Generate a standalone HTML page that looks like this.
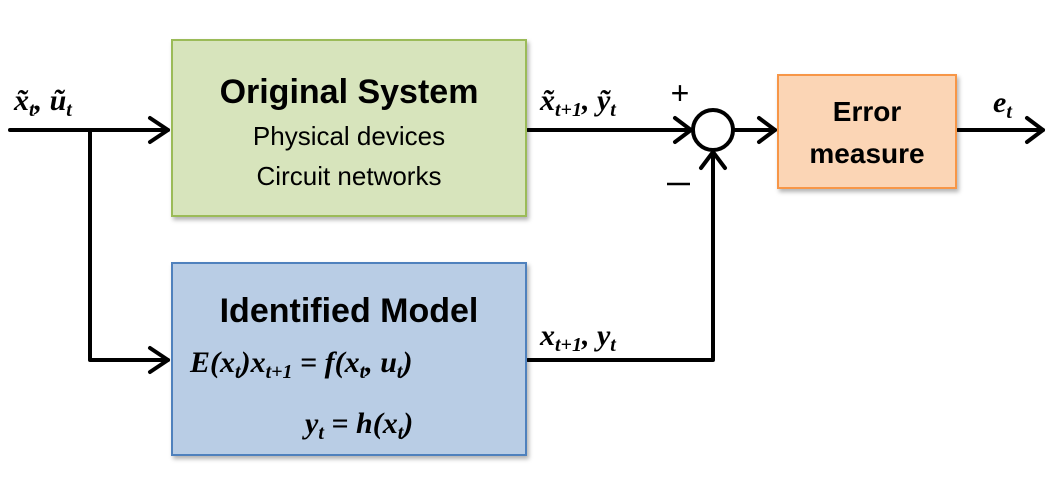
<!DOCTYPE html>
<html><head><meta charset="utf-8"><style>
html,body{margin:0;padding:0;background:#fff;}
svg{display:block}
.b{font-family:"Liberation Sans",sans-serif;font-weight:bold;}
.s{font-family:"Liberation Sans",sans-serif;}
.m{font-family:"Liberation Serif",serif;font-weight:bold;font-style:italic;}
.u{font-family:"Liberation Serif",serif;font-weight:bold;}
</style></head><body>
<svg width="1052" height="484" viewBox="0 0 1052 484" xmlns="http://www.w3.org/2000/svg">
<defs>
<filter id="sh" x="-5%" y="-5%" width="115%" height="120%"><feDropShadow dx="2" dy="3" stdDeviation="2" flood-color="#000" flood-opacity="0.3"/></filter>
</defs>
<g stroke="#000" stroke-width="4" fill="none" stroke-linecap="round" stroke-linejoin="round">
<line x1="10" y1="130" x2="168" y2="130"/>
<polyline points="150,118 168,130 150,142"/>
<polyline points="90,130 90,360 168,360"/>
<polyline points="150,348 168,360 150,372"/>
<line x1="528" y1="130" x2="691" y2="130"/>
<polyline points="675,118 691,130 675,142"/>
<polyline points="528,360 713,360 713,152"/>
<polyline points="701,168 713,152 725,168"/>
<line x1="735" y1="130" x2="775" y2="130"/>
<polyline points="759,118 775,130 759,142"/>
<line x1="958" y1="130" x2="1043" y2="130"/>
<polyline points="1027,118 1043,130 1027,142"/>
<circle cx="713" cy="130" r="20" stroke-width="4"/>
</g>
<rect x="172" y="40" width="354" height="176" fill="#d7e4bc" stroke="#9bbb59" stroke-width="2" filter="url(#sh)"/>
<rect x="172" y="263" width="354" height="192" fill="#b9cde5" stroke="#4f81bd" stroke-width="2" filter="url(#sh)"/>
<rect x="778" y="75" width="178" height="113" fill="#fbd5b5" stroke="#f79646" stroke-width="2" filter="url(#sh)"/>
<text x="349" y="103" text-anchor="middle" class="b" font-size="34">Original System</text>
<text x="349" y="145" text-anchor="middle" class="s" font-size="26">Physical devices</text>
<text x="349" y="185" text-anchor="middle" class="s" font-size="26">Circuit networks</text>
<text x="349" y="322" text-anchor="middle" class="b" font-size="34">Identified Model</text>
<text x="190" y="372" class="m" font-size="30">E<tspan class="u">(</tspan>x<tspan font-size="20" dy="6">t</tspan><tspan class="u" dy="-6">)</tspan>x<tspan font-size="20" dy="6">t+1</tspan><tspan class="u" dy="-6"> = </tspan>f<tspan class="u">(</tspan>x<tspan font-size="20" dy="6">t</tspan><tspan class="u" dy="-6">, </tspan>u<tspan font-size="20" dy="6">t</tspan><tspan class="u" dy="-6">)</tspan></text>
<text x="305" y="433" class="m" font-size="30">y<tspan font-size="20" dy="6">t</tspan><tspan class="u" dy="-6"> = </tspan>h<tspan class="u">(</tspan>x<tspan font-size="20" dy="6">t</tspan><tspan class="u" dy="-6">)</tspan></text>
<text x="867" y="121" text-anchor="middle" class="b" font-size="28">Error</text>
<text x="867" y="163" text-anchor="middle" class="b" font-size="28">measure</text>
<text x="14" y="110" class="m" font-size="30">x̃<tspan font-size="20" dy="6">t</tspan><tspan class="u" dy="-6">, </tspan>ũ<tspan font-size="20" dy="6">t</tspan></text>
<text x="540" y="110" class="m" font-size="30">x̃<tspan font-size="20" dy="6">t+1</tspan><tspan class="u" dy="-6">, </tspan>ỹ<tspan font-size="20" dy="6">t</tspan></text>
<text x="540" y="345" class="m" font-size="30">x<tspan font-size="20" dy="6">t+1</tspan><tspan class="u" dy="-6">, </tspan>y<tspan font-size="20" dy="6">t</tspan></text>
<text x="993" y="112" class="m" font-size="30">e<tspan font-size="20" dy="6">t</tspan></text>
<text x="680" y="104" text-anchor="middle" class="s" font-size="32">+</text>
<line x1="667" y1="184" x2="690" y2="184" stroke="#000" stroke-width="2.5"/>
</svg>
</body></html>
